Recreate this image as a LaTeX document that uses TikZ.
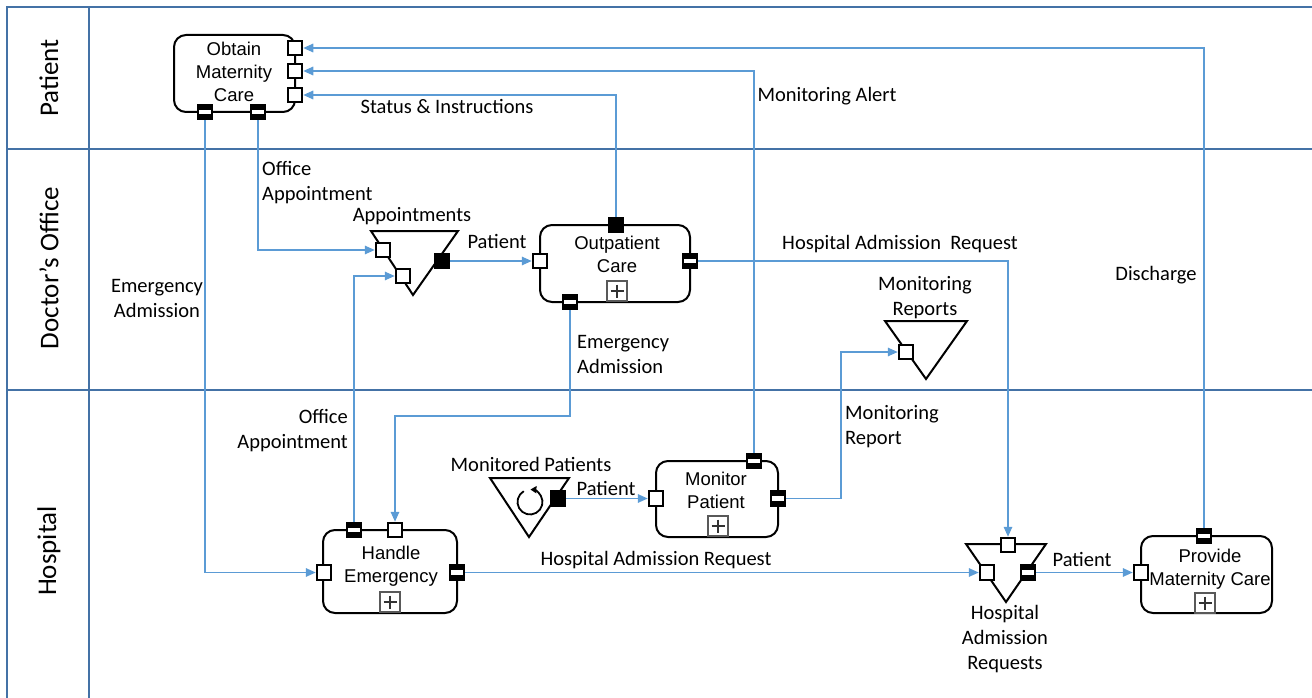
\documentclass[tikz,border=0pt]{standalone}
\usepackage{fontspec}
\setmainfont{Liberation Sans}
\newfontfamily\labfont{Carlito}
\usetikzlibrary{arrows.meta}
\definecolor{lanecol}{RGB}{68,114,166}
\definecolor{flowcol}{RGB}{91,155,213}
\definecolor{markcol}{RGB}{89,89,89}
\tikzset{
  lane/.style={draw=lanecol, line width=2pt},
  flow/.style={draw=flowcol, line width=1.6pt, -{Triangle[length=10pt,width=8.5pt]}},
  task/.style={draw=black, line width=2pt, rounded corners=12pt, fill=white, inner sep=0pt},
  tasktext/.style={font=\fontsize{18.5}{23}\selectfont, align=center, inner sep=0pt},
  lbl/.style={font=\labfont\fontsize{20.5}{25}\selectfont, inner sep=0pt, yshift=-1.5pt},
  lanelbl/.style={font=\labfont\fontsize{27}{30}\selectfont, rotate=90, inner sep=0pt},
  port/.style={draw=black, line width=2pt, minimum size=14.5pt, inner sep=0pt, fill=white},
  inport/.style={port},
  blackport/.style={port, fill=black},
  outport/.style={port, fill=black,
    path picture={\fill[white] ([yshift=2.3pt]path picture bounding box.west)
      rectangle ([yshift=-2.3pt]path picture bounding box.east);}},
  store/.style={draw=black, line width=2pt, fill=white, line join=miter},
  submark/.style={draw=markcol, line width=2pt, minimum size=20pt, inner sep=0pt, fill=white,
    path picture={\draw[black!80, line width=2.2pt]
      ([yshift=-3.5pt]path picture bounding box.north) -- ([yshift=3.5pt]path picture bounding box.south)
      ([xshift=3.5pt]path picture bounding box.west) -- ([xshift=-3.5pt]path picture bounding box.east);}},
}
\begin{document}
\begin{tikzpicture}[x=1pt,y=-1pt]
\useasboundingbox (0,0) rectangle (1312,698);

% swimlanes
\draw[lane] (7,698) -- (7,7) -- (1312,7);
\draw[lane] (7,149) -- (1312,149);
\draw[lane] (7,390) -- (1312,390);
\draw[lane] (89,7) -- (89,698);
\node[lanelbl] (lanepatient) at (49,78) {Patient};
\node[lanelbl] (laneoffice) at (49,268) {Doctor’s Office};
\node[lanelbl] (lanehospital) at (49,551) {Hospital};

% tasks
\node[task, minimum width=121pt, minimum height=77pt] (obtain) at (234.5,73.5) {};
\node[task, minimum width=150pt, minimum height=77pt] (outpatient) at (615,263.5) {};
\node[task, minimum width=122pt, minimum height=76pt] (monitor) at (717,499) {};
\node[task, minimum width=134pt, minimum height=83pt] (handle) at (390,571.5) {};
\node[task, minimum width=131pt, minimum height=77pt] (provide) at (1206.5,574.5) {};

\node[tasktext] (obtaintxt) at (234,72) {Obtain\\Maternity\\Care};
\node[tasktext] (outpatienttxt) at (617,254) {Outpatient\\Care};
\node[tasktext] (monitortxt) at (716,490.5) {Monitor\\Patient};
\node[tasktext] (handletxt) at (391,566.7) {Handle\\Emergency};
\node[tasktext] (providetxt) at (1210,569.7) {Provide\\Maternity Care};

% sub-process markers
\node[submark] (outpatientsub) at (617,291) {};
\node[submark] (monitorsub) at (718,526) {};
\node[submark] (handlesub) at (390,602) {};
\node[submark] (providesub) at (1205,603) {};

% data stores
\draw[store] (371,231) -- (458,231) -- (413,295) -- cycle;
\draw[store] (490,478) -- (569,478) -- (529,537) -- cycle;
\draw[store] (885,321) -- (967,321) -- (926,379) -- cycle;
\draw[store] (966,544) -- (1046,544) -- (1006,602) -- cycle;
\draw[line width=1.8pt, -{Triangle[length=6pt,width=7pt]}]
  (530,502) ++(-120:12.5) arc[start angle=-120, end angle=-448, radius=12.5];

% ports
\node[inport] (ob1) at (295,48) {};
\node[inport] (ob2) at (295,71) {};
\node[inport] (ob3) at (295,95) {};
\node[outport] (obb1) at (205,112) {};
\node[outport] (obb2) at (258,112) {};

\node[inport] (appin1) at (383,250) {};
\node[inport] (appin2) at (403,276) {};
\node[blackport] (appout) at (442,261) {};

\node[blackport] (outtop) at (616,225) {};
\node[inport] (outin) at (540,261) {};
\node[outport] (outright) at (690,261) {};
\node[outport] (outbot) at (570,302) {};

\node[outport] (montop) at (754,461) {};
\node[inport] (monin) at (656,498.5) {};
\node[outport] (monright) at (778,498.5) {};
\node[blackport] (mpout) at (558,498.5) {};

\node[inport] (mrin) at (906,352) {};

\node[outport] (hetl) at (354,530) {};
\node[inport] (hetop) at (395,530) {};
\node[inport] (hein) at (324,572.5) {};
\node[outport] (heright) at (457,572.5) {};

\node[inport] (hartop) at (1008,545) {};
\node[inport] (harin) at (987,572.5) {};
\node[outport] (harout) at (1028,572.5) {};

\node[outport] (provtop) at (1204,536) {};
\node[inport] (provin) at (1141,572.5) {};

% message flows
\coordinate (emturn) at (570,416);
\coordinate (mrturn) at (841,498.5);
\draw[flow] (provtop.north) |- (ob1.east);
\draw[flow] (montop.north) |- (ob2.east);
\draw[flow] (outtop.north) |- (ob3.east);
\draw[flow] (obb2.south) |- (appin1.west);
\draw[flow] (obb1.south) |- (hein.west);
\draw[flow] (hetl.north) |- (appin2.west);
\draw[flow] (appout.east) -- (outin.west);
\draw[flow] (outbot.south) -- (emturn) -| (hetop.north);
\draw[flow] (outright.east) -| (hartop.north);
\draw[flow] (monright.east) -- (mrturn) |- (mrin.west);
\draw[flow] (mpout.east) -- (monin.west);
\draw[flow] (heright.east) -- (harin.west);
\draw[flow] (harout.east) -- (provin.west);

% flow and store labels
\node[lbl] (lstatus) at (447,105) {Status \& Instructions};
\node[lbl] (lalert) at (827,95) {Monitoring Alert};
\node[lbl] (ldischarge) at (1156,274) {Discharge};
\node[lbl, anchor=west, align=left] (loffice1) at (262,181) {Office\\Appointment};
\node[lbl, align=center] (lemerg1) at (157,297) {Emergency\\Admission};
\node[lbl] (lappts) at (412,215) {Appointments};
\node[lbl] (lpat1) at (497,240) {Patient};
\node[lbl] (lhar1) at (900,243) {Hospital Admission\ \ Request};
\node[lbl, align=center] (lmreports) at (925,296.5) {Monitoring\\Reports};
\node[lbl, anchor=west, align=left] (lemerg2) at (577,352.5) {Emergency\\Admission};
\node[lbl, anchor=east, align=right] (loffice2) at (348,429.5) {Office\\Appointment};
\node[lbl, anchor=west, align=left] (lmreport) at (845,425.5) {Monitoring\\Report};
\node[lbl] (lmpat) at (531,463) {Monitored Patients};
\node[lbl] (lpat2) at (606,487) {Patient};
\node[lbl] (lhar2) at (656,559) {Hospital Admission Request};
\node[lbl] (lpat3) at (1082,558) {Patient};
\node[lbl, align=center] (lharq) at (1005,637.5) {Hospital\\Admission\\Requests};
\end{tikzpicture}
\end{document}
